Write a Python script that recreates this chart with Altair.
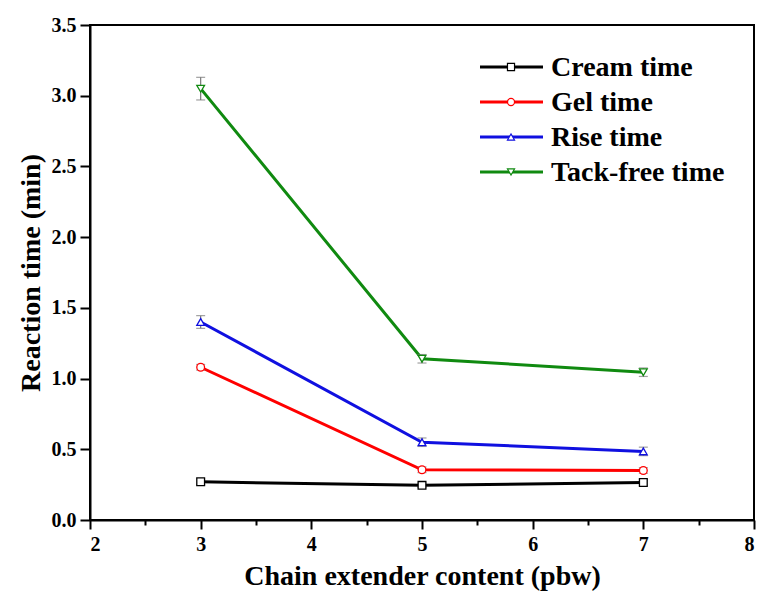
import altair as alt
import pandas as pd

# ---- data ----
x_vals = [3, 5, 7]
series_names = ["Cream time", "Gel time", "Rise time", "Tack-free time"]
cream = [0.27, 0.245, 0.265]
gel = [1.08, 0.355, 0.35]
rise = [1.40, 0.55, 0.485]
tack = [3.05, 1.14, 1.045]
cream_err = [0.02, 0.015, 0.02]
gel_err = [0.02, 0.02, 0.02]
rise_err = [0.045, 0.03, 0.03]
tack_err = [0.08, 0.03, 0.03]
colors = ["#000000", "#ff0000", "#1010e0", "#108a10"]
shapes = ["square", "circle", "triangle-up", "triangle-down"]
x_ticks = [2, 2.5, 3, 3.5, 4, 4.5, 5, 5.5, 6, 6.5, 7, 7.5, 8]
y_ticks = [i * 0.25 for i in range(15)]

rows = []
for name, vals, errs in zip(series_names, [cream, gel, rise, tack],
                            [cream_err, gel_err, rise_err, tack_err]):
    for xv, yv, ev in zip(x_vals, vals, errs):
        rows.append({"series": name, "x": xv, "y": yv,
                     "lo": yv - ev, "hi": yv + ev})
df = pd.DataFrame(rows)

FONT = "Liberation Serif"
W, H = 664, 495

color_scale = alt.Scale(domain=series_names, range=colors)
shape_scale = alt.Scale(domain=series_names, range=shapes)

xenc = alt.X("x:Q", scale=alt.Scale(domain=[2, 8], nice=False),
             axis=alt.Axis(values=x_ticks, title="Chain extender content (pbw)",
                           labelExpr="datum.value % 1 == 0 ? format(datum.value, 'd') : ''",
                           tickSize={"condition": {"test": "datum.value % 1 != 0", "value": 5}, "value": 9},
                           labelPadding=5, titlePadding=8, grid=False))
yenc = alt.Y("y:Q", scale=alt.Scale(domain=[0, 3.5], nice=False),
             axis=alt.Axis(values=y_ticks, title="Reaction time (min)",
                           labelExpr="abs(datum.value*2 - round(datum.value*2)) < 0.001 ? format(datum.value, '.1f') : ''",
                           tickSize={"condition": {"test": "abs(datum.value*2 - round(datum.value*2)) > 0.001", "value": 5}, "value": 10},
                           labelPadding=4, titlePadding=6, grid=False))

base = alt.Chart(df)

lines = base.mark_line(strokeWidth=3).encode(
    x=xenc, y=yenc,
    color=alt.Color("series:N", scale=color_scale, legend=None),
    detail="series:N")

errs = base.mark_rule(color="#777777", strokeWidth=1.2).encode(
    x="x:Q", y="lo:Q", y2="hi:Q")
caps_hi = base.mark_tick(color="#777777", thickness=1.2, size=9, orient="horizontal").encode(
    x="x:Q", y="hi:Q")
caps_lo = base.mark_tick(color="#777777", thickness=1.2, size=9, orient="horizontal").encode(
    x="x:Q", y="lo:Q")

points = base.mark_point(filled=True, fill="white", size=60, strokeWidth=1.3, opacity=1).encode(
    x="x:Q", y="y:Q",
    stroke=alt.Stroke("series:N", scale=color_scale, legend=None),
    shape=alt.Shape("series:N", scale=shape_scale, legend=None))

layers = [lines, errs, caps_hi, caps_lo, points]

# ---- manual legend ----
leg_y0, leg_dy = 42, 35
for i, (name, col, shp) in enumerate(zip(series_names, colors, shapes)):
    ldf = pd.DataFrame({"series": [name]})
    yy = leg_y0 + i * leg_dy
    layers.append(alt.Chart(ldf).mark_rule(color=col, strokeWidth=3).encode(
        x=alt.value(390), x2=alt.value(453), y=alt.value(yy)))
    layers.append(alt.Chart(ldf).mark_point(shape=shp, filled=True, fill="white", stroke=col,
                                            strokeWidth=1.2, size=50, opacity=1).encode(
        x=alt.value(421), y=alt.value(yy)))
    layers.append(alt.Chart(ldf).mark_text(align="left", baseline="middle", font=FONT,
                                           fontWeight="bold", fontSize=28, color="black").encode(
        x=alt.value(461), y=alt.value(yy + 1), text="series:N"))

chart = alt.layer(*layers).properties(
    width=W, height=H,
    autosize=alt.AutoSizeParams(type="none"),
    padding={"left": 82, "top": 17, "right": 6, "bottom": 71},
).configure_view(
    stroke="black", strokeWidth=2
).configure_axis(
    domainColor="black", domainWidth=2, tickColor="black", tickWidth=2,
    labelFont=FONT, labelFontWeight="bold", labelFontSize=20, labelColor="black",
    titleFont=FONT, titleFontWeight="bold", titleFontSize=28, titleColor="black",
)

chart.save("out.html", embed_options={"renderer": "svg", "actions": False})
